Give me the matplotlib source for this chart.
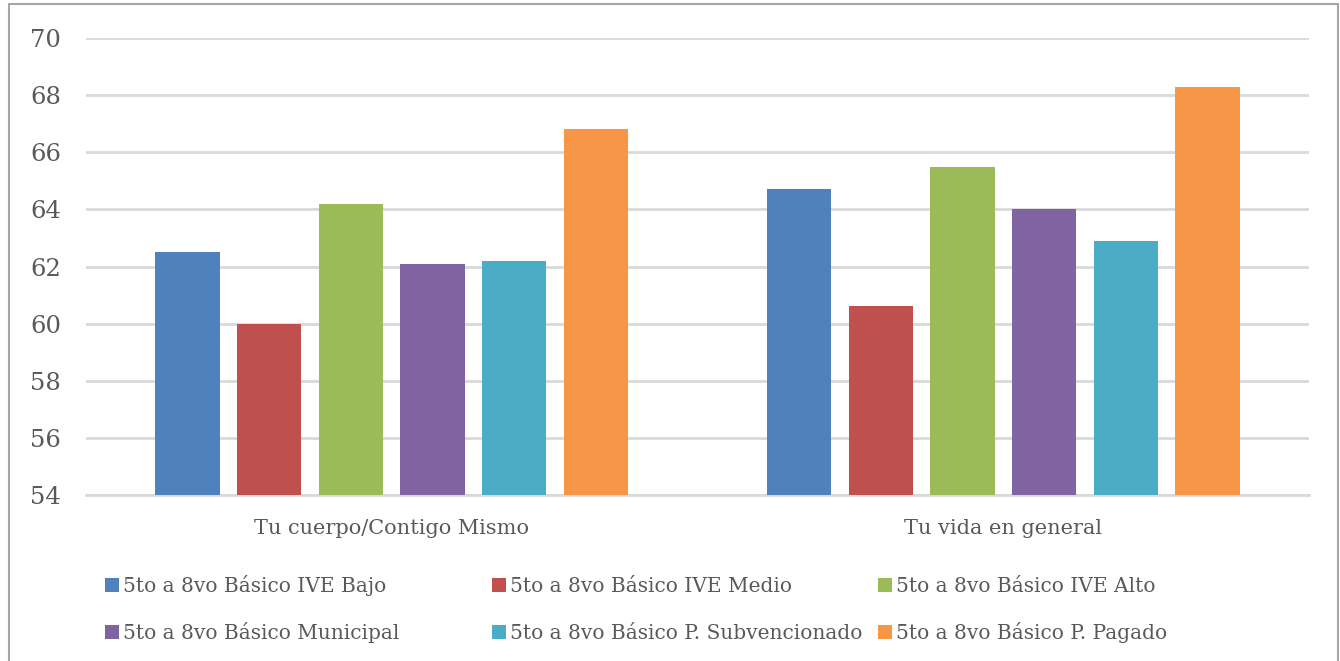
import matplotlib
matplotlib.use("Agg")
import matplotlib.pyplot as plt
import matplotlib.patches as patches
import numpy as np

plt.rcParams["font.family"] = ["DejaVu Serif"]

CATEGORIES = ["Tu cuerpo/Contigo Mismo", "Tu vida en general"]
SERIES = [
    "5to a 8vo Básico IVE Bajo",
    "5to a 8vo Básico IVE Medio",
    "5to a 8vo Básico IVE Alto",
    "5to a 8vo Básico Municipal",
    "5to a 8vo Básico P. Subvencionado",
    "5to a 8vo Básico P. Pagado",
]
VALUES = [
    [62.5, 64.7],
    [60.0, 60.6],
    [64.2, 65.5],
    [62.1, 64.0],
    [62.2, 62.9],
    [66.8, 68.3],
]
COLORS = ["#4F81BD", "#C0504D", "#9BBB59", "#8064A2", "#4BACC6", "#F79646"]
YTICKS = [54, 56, 58, 60, 62, 64, 66, 68, 70]

TEXT = "#595959"
GRID = "#D9D9D9"
W, H = 1340, 661

fig = plt.figure(figsize=(W / 100, H / 100), dpi=100)
ax = fig.add_axes([86 / W, 1 - 495 / H, (1309 - 86) / W, (495 - 38) / H])

x = np.arange(len(CATEGORIES))
step = 0.1336
width = 0.105
for i, (name, vals, col) in enumerate(zip(SERIES, VALUES, COLORS)):
    off = (i - 2.5) * step
    ax.bar(x + off, np.array(vals) - 54, width, bottom=54, color=col, label=name, zorder=3)

ax.set_xlim(-0.5, 1.5)
ax.set_ylim(54, 70)
ax.set_yticks(YTICKS)
ax.set_yticklabels([str(t) for t in YTICKS], fontsize=17.5, color=TEXT)
ax.set_xticks(x)
ax.set_xticklabels(CATEGORIES, fontsize=15, color=TEXT)
ax.tick_params(axis="both", length=0)
ax.tick_params(axis="y", pad=18)
ax.tick_params(axis="x", pad=17)
ax.yaxis.grid(True, color=GRID, linewidth=2, zorder=0)
for s in ["top", "right", "left"]:
    ax.spines[s].set_visible(False)
ax.spines["bottom"].set_color(GRID)
ax.spines["bottom"].set_linewidth(2)

# legend laid out by hand: 3 columns x 2 rows
marker_x = [105, 492, 878]
row_y = [585, 632]
for i, (name, col) in enumerate(zip(SERIES, COLORS)):
    r, c = divmod(i, 3)
    mx, my = marker_x[c], row_y[r]
    fig.patches.append(
        patches.Rectangle((mx / W, 1 - (my + 7) / H), 14 / W, 14 / H,
                          transform=fig.transFigure, facecolor=col, edgecolor="none")
    )
    fig.text((mx + 18) / W, 1 - (my + 7) / H, name, fontsize=14.5, color=TEXT,
             ha="left", va="baseline")

# outer chart border
fig.patches.append(
    patches.Rectangle((9 / W, -0.01), 1329 / W, 1 - 4 / H + 0.01,
                      transform=fig.transFigure, fill=False, edgecolor="#A6A6A6", linewidth=1.5)
)

fig.savefig("out.png", dpi=100, facecolor="white")
